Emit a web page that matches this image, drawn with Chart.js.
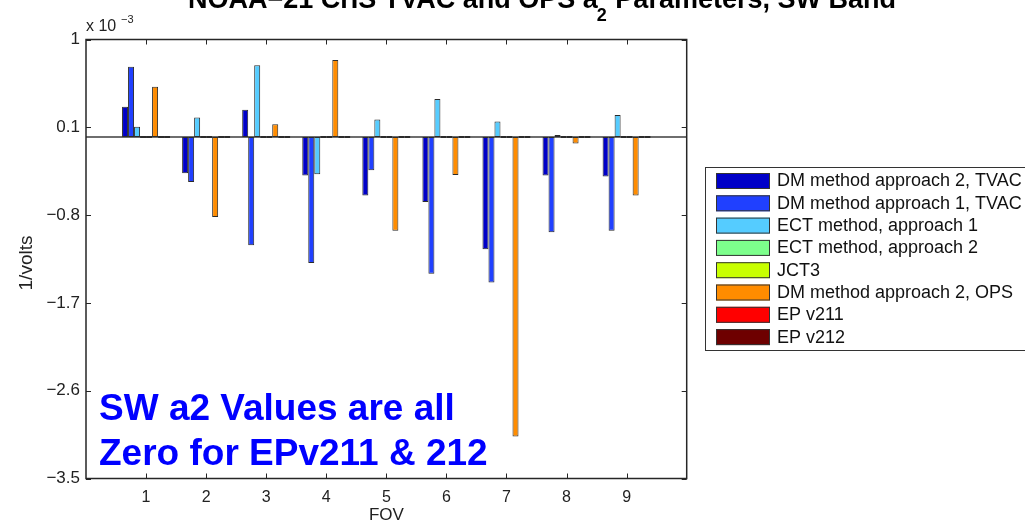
<!DOCTYPE html>
<html>
<head>
<meta charset="utf-8">
<title>NOAA-21 CrIS SW a2</title>
<script src="https://cdn.jsdelivr.net/npm/chart.js@4.4.0/dist/chart.umd.min.js"></script>
<style>
  html, body { margin: 0; padding: 0; background: #fff; }
  #wrap { width: 1025px; height: 524px; }
</style>
</head>
<body>
<div id="wrap"><canvas id="a2-chart" width="1025" height="524"></canvas></div>
<script>
// a2 values per FOV, units of 1e-3 1/volts
const fovs = [1, 2, 3, 4, 5, 6, 7, 8, 9];
const dmApproach2Tvac = [0.31, -0.37, 0.28, -0.395, -0.6, -0.665, -1.15, -0.395, -0.405];
const dmApproach1Tvac = [0.72, -0.46, -1.11, -1.29, -0.34, -1.4, -1.49, -0.975, -0.96];
const ectApproach1 = [0.105, 0.2, 0.735, -0.38, 0.18, 0.39, 0.16, 0.02, 0.225];
const ectApproach2 = [0, 0, 0, 0, 0, 0, 0, 0, 0];
const jct3 = [0, 0, 0, 0, 0, 0, 0, 0, 0];
const dmApproach2Ops = [0.515, -0.82, 0.13, 0.79, -0.96, -0.39, -3.07, -0.065, -0.6];
const epV211 = [0, 0, 0, 0, 0, 0, 0, 0, 0];
const epV212 = [0, 0, 0, 0, 0, 0, 0, 0, 0];

const seriesNames = [
  "DM method approach 2, TVAC",
  "DM method approach 1, TVAC",
  "ECT method, approach 1",
  "ECT method, approach 2",
  "JCT3",
  "DM method approach 2, OPS",
  "EP v211",
  "EP v212",
];
const seriesColors = ["#0000c8", "#2040ff", "#55ccff", "#7dff8c", "#c8ff00", "#ff8c00", "#ff0000", "#6e0000"];
const seriesValues = [dmApproach2Tvac, dmApproach1Tvac, ectApproach1, ectApproach2, jct3, dmApproach2Ops, epV211, epV212];

const yTicks = [-3.5, -2.6, -1.7, -0.8, 0.1, 1];
const xRange = [0, 10];

const FONT = "'Liberation Sans', Arial, Helvetica, sans-serif";

const datasets = seriesNames.map((name, i) => ({
  label: name,
  data: fovs.map((f, j) => ({ x: f, y: seriesValues[i][j] })),
  backgroundColor: seriesColors[i],
  borderColor: "#2b2b2b",
  borderWidth: 1,
  borderSkipped: false,
  minBarLength: 2,
}));

function fmtTick(v) {
  const s = Number(v.toFixed(1)).toString();
  return s.replace("-", "\u2212");
}

// zero baseline under the bars, box and inward ticks on all four sides
const framePlugin = {
  id: "frame",
  beforeDatasetsDraw(chart) {
    const { ctx, chartArea: a, scales } = chart;
    const y0 = scales.y.getPixelForValue(0);
    ctx.save();
    ctx.strokeStyle = "#6e6e6e";
    ctx.lineWidth = 2;
    ctx.beginPath();
    ctx.moveTo(a.left, y0);
    ctx.lineTo(a.right, y0);
    ctx.stroke();
    ctx.restore();
  },
  afterDatasetsDraw(chart) {
    const { ctx, chartArea: a, scales } = chart;
    const x = scales.x, y = scales.y;
    ctx.save();
    ctx.strokeStyle = "#262626";
    ctx.lineWidth = 1.5;
    ctx.strokeRect(a.left, a.top, a.right - a.left, a.bottom - a.top);

    const len = 5;
    ctx.lineWidth = 1;
    ctx.beginPath();
    yTicks.forEach((v) => {
      const py = Math.round(y.getPixelForValue(v)) + 0.5;
      ctx.moveTo(a.left, py); ctx.lineTo(a.left + len, py);
      ctx.moveTo(a.right, py); ctx.lineTo(a.right - len, py);
    });
    fovs.forEach((v) => {
      const px = Math.round(x.getPixelForValue(v)) + 0.5;
      ctx.moveTo(px, a.bottom); ctx.lineTo(px, a.bottom - len);
      ctx.moveTo(px, a.top); ctx.lineTo(px, a.top + len);
    });
    ctx.stroke();
    ctx.restore();
  },
  afterDraw(chart) {
    const { ctx, chartArea: a } = chart;
    ctx.save();
    ctx.fillStyle = "#000";
    ctx.textBaseline = "alphabetic";

    // title with subscript 2
    ctx.font = "bold 27px " + FONT;
    ctx.textAlign = "left";
    const part1 = "NOAA\u221221 CrIS TVAC and OPS a";
    const part2 = " Parameters, SW Band";
    let tx = 188;
    ctx.fillText(part1, tx, 8);
    tx += ctx.measureText(part1).width;
    ctx.font = "bold 18px " + FONT;
    ctx.fillText("2", tx - 1, 21);
    tx += ctx.measureText("2").width;
    ctx.font = "bold 27px " + FONT;
    ctx.fillText(part2, tx, 8);

    // exponent label
    ctx.fillStyle = "#222";
    ctx.font = "16px " + FONT;
    ctx.fillText("x 10", 86, 31);
    ctx.font = "11px " + FONT;
    ctx.fillText("\u22123", 121, 23);

    // axis titles
    ctx.font = "17px " + FONT;
    ctx.textAlign = "center";
    ctx.textBaseline = "middle";
    ctx.fillText("FOV", (a.left + a.right) / 2, 515);
    ctx.save();
    ctx.translate(27, 263);
    ctx.rotate(-Math.PI / 2);
    ctx.font = "19px " + FONT;
    ctx.fillText("1/volts", 0, 0);
    ctx.restore();

    // legend box
    const lx = 705.5, ly = 167.5, rowH = 22.3;
    ctx.fillStyle = "#fff";
    ctx.fillRect(lx, ly, 400, 183);
    ctx.strokeStyle = "#333";
    ctx.lineWidth = 1;
    ctx.strokeRect(lx, ly, 400, 183);
    ctx.textAlign = "left";
    ctx.font = "18px " + FONT;
    chart.data.datasets.forEach((ds, i) => {
      const ry = 173 + i * rowH;
      ctx.fillStyle = ds.backgroundColor;
      ctx.fillRect(716, ry, 54, 16);
      ctx.strokeStyle = "#333";
      ctx.strokeRect(716.5, ry + 0.5, 53, 15);
      ctx.fillStyle = "#111";
      ctx.fillText(ds.label, 777, ry + 8.5);
    });

    // note
    ctx.fillStyle = "#0000ff";
    ctx.font = "bold 37px " + FONT;
    ctx.textBaseline = "alphabetic";
    ctx.fillText("SW a2 Values are all", 99, 420);
    ctx.fillText("Zero for EPv211 & 212", 99, 465);
    ctx.restore();
  },
};

const ctx = document.getElementById("a2-chart").getContext("2d");
new Chart(ctx, {
  type: "bar",
  data: { datasets: datasets },
  options: {
    responsive: false,
    animation: false,
    devicePixelRatio: 1,
    layout: { padding: { left: 0, top: 39.5, right: 338.3, bottom: 0 } },
    datasets: { bar: { categoryPercentage: 0.8, barPercentage: 1, grouped: true } },
    plugins: { legend: { display: false }, title: { display: false }, tooltip: { enabled: false } },
    scales: {
      x: {
        type: "linear",
        min: xRange[0],
        max: xRange[1],
        offset: false,
        grid: { display: false, drawTicks: false },
        border: { display: false },
        afterBuildTicks: (axis) => { axis.ticks = fovs.map((v) => ({ value: v })); },
        afterFit: (axis) => { axis.height = 45.5; },
        ticks: {
          color: "#222",
          font: { family: FONT, size: 16 },
          padding: 9,
          maxRotation: 0,
          callback: (v) => String(v),
        },
      },
      y: {
        min: yTicks[0],
        max: yTicks[yTicks.length - 1],
        grid: { display: false, drawTicks: false },
        border: { display: false },
        afterBuildTicks: (axis) => { axis.ticks = yTicks.map((v) => ({ value: v })); },
        afterFit: (axis) => { axis.width = 86; },
        ticks: {
          color: "#222",
          font: { family: FONT, size: 17 },
          padding: 6,
          callback: (v) => fmtTick(v),
        },
      },
    },
  },
  plugins: [framePlugin],
});
</script>
</body>
</html>
